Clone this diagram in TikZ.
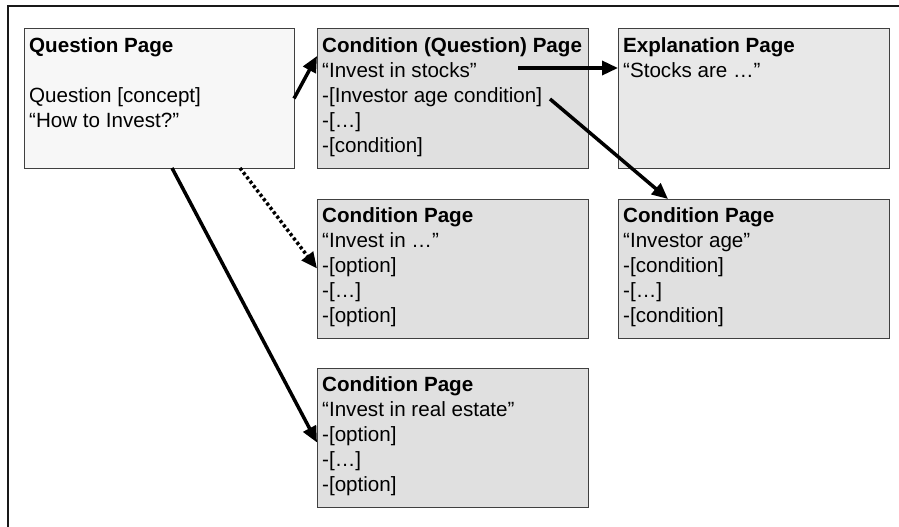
\documentclass[tikz,border=0pt]{standalone}
\usepackage{fontspec}
\setmainfont{Liberation Sans}
\usetikzlibrary{arrows.meta}
\begin{document}
\begin{tikzpicture}[x=1pt,y=1pt,
  pagebox/.style={draw=black!75, line width=1pt, inner sep=0pt, outer sep=0pt,
    anchor=north west, minimum height=139pt},
  pagetext/.style={anchor=north west, inner sep=0pt, align=left,
    font=\fontsize{20.6}{25}\selectfont, execute at begin node=\strut},
  link/.style={line width=3.5pt, -{Triangle[length=16pt,width=14pt]}},
  dotlink/.style={line width=3.5pt, dash pattern=on 3pt off 2.5pt, -{Triangle[length=16pt,width=14pt]}}
]
\useasboundingbox (0,0) rectangle (899,-527);
\fill[white] (0,0) rectangle (899,-527);
% outer frame
\draw[line width=2pt, black!90] (8,-527) -- (8,-6) -- (899,-6);

% boxes
\node[pagebox, fill=black!3, minimum width=270pt] (qp) at (24,-29) {};
\node[pagebox, fill=black!12, minimum width=271pt] (cqp) at (317,-29) {};
\node[pagebox, fill=black!9, minimum width=271pt] (exp) at (618,-29) {};
\node[pagebox, fill=black!12, minimum width=271pt] (cmp) at (317,-199) {};
\node[pagebox, fill=black!12, minimum width=271pt] (crp) at (618,-199) {};
\node[pagebox, fill=black!12, minimum width=271pt] (cbp) at (317,-368) {};

% texts
\node[pagetext] (qpt) at ([shift={(5,-8.5)}]qp.north west)
  {\textbf{Question Page}\\ \\Question [concept]\\“How to Invest?”};
\node[pagetext] (cqpt) at ([shift={(5,-8.5)}]cqp.north west)
  {\textbf{Condition (Question) Page}\\“Invest in stocks”\\-[Investor age condition]\\-[…]\\-[condition]};
\node[pagetext] (expt) at ([shift={(5,-8.5)}]exp.north west)
  {\textbf{Explanation Page}\\“Stocks are …”};
\node[pagetext] (cmpt) at ([shift={(5,-8.5)}]cmp.north west)
  {\textbf{Condition Page}\\“Invest in …”\\-[option]\\-[…]\\-[option]};
\node[pagetext] (crpt) at ([shift={(5,-8.5)}]crp.north west)
  {\textbf{Condition Page}\\“Investor age”\\-[condition]\\-[…]\\-[condition]};
\node[pagetext] (cbpt) at ([shift={(5,-8.5)}]cbp.north west)
  {\textbf{Condition Page}\\“Invest in real estate”\\-[option]\\-[…]\\-[option]};

% connector start points inside the condition (question) page
\coordinate (stocksend) at (518,-68);
\coordinate (ageend) at (550,-99);

% connectors
\draw[link] (qp.east) -- ([yshift=-27pt]cqp.north west);
\draw[link] (stocksend) -- (stocksend -| exp.west);
\draw[link] (ageend) -- ([xshift=50pt]crp.north west);
\draw[dotlink] ([xshift=216pt]qp.south west) -- (cmp.west);
\draw[link] ([xshift=148pt]qp.south west) -- ([yshift=-5pt]cbp.west);
\end{tikzpicture}
\end{document}
